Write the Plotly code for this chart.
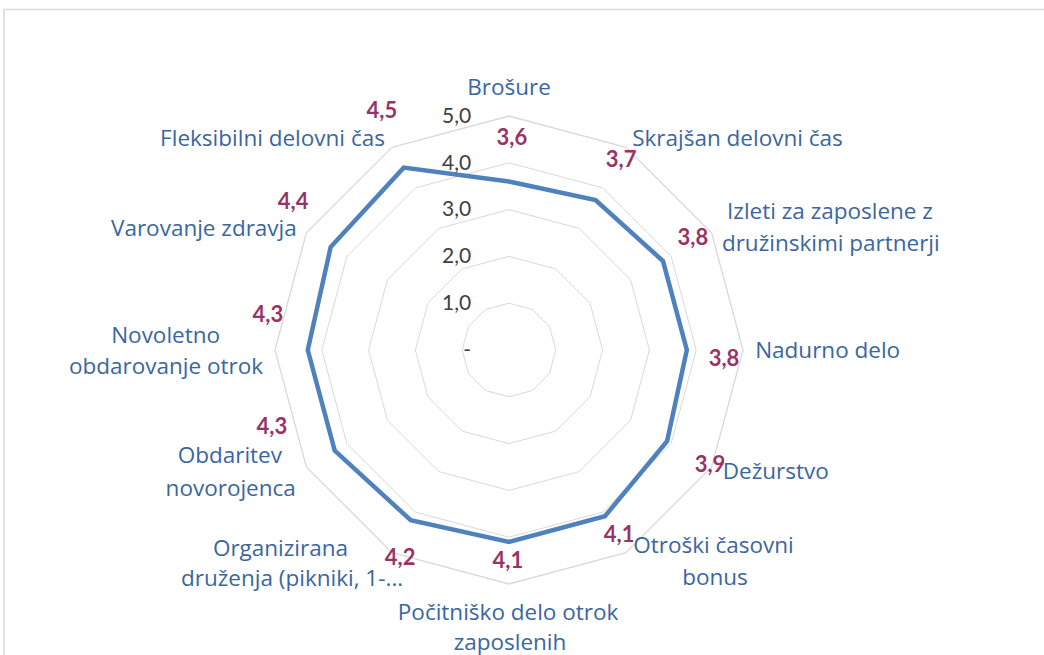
import plotly.graph_objects as go

# ---------------- data ----------------
categories = [
    "Brošure",
    "Skrajšan delovni čas",
    "Izleti za zaposlene z družinskimi partnerji",
    "Nadurno delo",
    "Dežurstvo",
    "Otroški časovni bonus",
    "Počitniško delo otrok zaposlenih",
    "Organizirana druženja (pikniki, 1-...",
    "Obdaritev novorojenca",
    "Novoletno obdarovanje otrok",
    "Varovanje zdravja",
    "Fleksibilni delovni čas",
]
category_display = [
    "Brošure",
    "Skrajšan delovni čas",
    "Izleti za zaposlene z<br>družinskimi partnerji",
    "Nadurno delo",
    "Dežurstvo",
    "Otroški časovni<br>bonus",
    "Počitniško delo otrok<br>zaposlenih",
    "Organizirana<br>druženja (pikniki, 1-...",
    "Obdaritev<br>novorojenca",
    "Novoletno<br>obdarovanje otrok",
    "Varovanje zdravja",
    "Fleksibilni delovni čas",
]
values = [3.6, 3.7, 3.8, 3.8, 3.9, 4.1, 4.1, 4.2, 4.3, 4.3, 4.4, 4.5]
value_labels = ["3,6", "3,7", "3,8", "3,8", "3,9", "4,1", "4,1", "4,2", "4,3", "4,3", "4,4", "4,5"]
radial_ticks = [0, 1, 2, 3, 4, 5]
radial_ticktext = ["-", "1,0", "2,0", "3,0", "4,0", "5,0"]

# ---------------- label placement (layout only, one entry per text line) ----------------
line_theta = [0.0, 30.4, 57.9, 63.8, 90.5, 119.9, 147.8, 143.0, 180.2, 179.8,
              218.8, 204.7, 244.6, 236.7, 272.6, 265.8, 299.5, 329.4]
line_r = [5.56, 5.20, 5.50, 5.07, 5.26, 5.27, 4.98, 6.15, 5.64, 6.30,
          5.49, 5.41, 5.37, 5.45, 6.18, 5.27, 5.21, 5.21]
line_pos = ["middle center", "middle right", "middle right", "middle right", "middle right",
            "middle right", "middle right", "middle right", "middle center", "middle center",
            "middle left", "middle left", "middle left", "middle left", "middle left",
            "middle left", "middle left", "middle left"]

val_lab_theta = [0.8, 30.8, 59.1, 92.7, 120.0, 149.4, 180.3, 207.5, 251.6, 277.8, 304.1, 331.8]
val_lab_r = [4.49, 4.68, 4.58, 4.60, 4.96, 4.62, 4.55, 5.04, 5.34, 5.20, 5.57, 5.75]

label_lines = [part for lab in category_display for part in lab.split("<br>")]

FONT = "Lato"
CAT_FONT = "Open Sans"
CAT_COLOR = "#3A66A0"
VAL_COLOR = "#993366"
GRID = "#D9D9D9"

W, H = 1044, 655
cx, cy, R = 509, 350, 234          # centre and radius of the 5,0 ring in pixels
unit = R / 5.0
R2 = min(cx, W - cx, cy, H - cy)   # radius of the (larger) label overlay
dom_x = [(cx - R) / W, (cx + R) / W]
dom_y = [(H - cy - R) / H, (H - cy + R) / H]
dom2_x = [(cx - R2) / W, (cx + R2) / W]
dom2_y = [(H - cy - R2) / H, (H - cy + R2) / H]

fig = go.Figure()

# data polygon (closed)
fig.add_trace(go.Scatterpolar(
    r=values + values[:1],
    theta=categories + categories[:1],
    mode="lines",
    line=dict(color="#4F81BD", width=4.5),
    subplot="polar",
    hoverinfo="skip",
    showlegend=False,
))

# value labels
fig.add_trace(go.Scatterpolar(
    r=val_lab_r, theta=val_lab_theta, mode="text", text=value_labels,
    textposition="middle center",
    textfont=dict(family=FONT, size=22, color=VAL_COLOR, weight="bold"),
    subplot="polar2", showlegend=False, hoverinfo="skip",
))

# category labels
fig.add_trace(go.Scatterpolar(
    r=line_r, theta=line_theta, mode="text", text=label_lines,
    textposition=line_pos,
    textfont=dict(family=CAT_FONT, size=22.5, color=CAT_COLOR),
    subplot="polar2", showlegend=False, hoverinfo="skip",
))

fig.update_layout(
    width=W, height=H,
    margin=dict(l=0, r=0, t=0, b=0),
    paper_bgcolor="white",
    showlegend=False,
    polar=dict(
        domain=dict(x=dom_x, y=dom_y),
        bgcolor="rgba(0,0,0,0)",
        gridshape="linear",
        radialaxis=dict(
            range=[0, 5], tickvals=radial_ticks, ticktext=radial_ticktext,
            angle=90, tickangle=90, side="counterclockwise",
            showline=False, gridcolor=GRID, gridwidth=1.3,
            ticks="outside", ticklen=30, tickcolor="rgba(0,0,0,0)",
            tickfont=dict(family=FONT, size=21, color="#404040"),
        ),
        angularaxis=dict(
            type="category", categoryarray=categories,
            rotation=90, direction="clockwise",
            showticklabels=False, ticks="", showgrid=False,
            showline=True, linecolor=GRID, linewidth=1.3,
        ),
    ),
    polar2=dict(
        domain=dict(x=dom2_x, y=dom2_y),
        bgcolor="rgba(0,0,0,0)",
        radialaxis=dict(range=[0, R2 / unit], visible=False),
        angularaxis=dict(rotation=90, direction="clockwise", thetaunit="degrees",
                         visible=False, showgrid=False, showline=False),
    ),
    shapes=[dict(type="rect", xref="paper", yref="paper",
                 x0=4 / W, x1=1.02, y0=-0.02, y1=1 - 9.5 / H,
                 line=dict(color=GRID, width=1.5), layer="below")],
)

fig.write_html("out.html", config={"displayModeBar": False},
               post_script="document.body.style.margin='0';")
